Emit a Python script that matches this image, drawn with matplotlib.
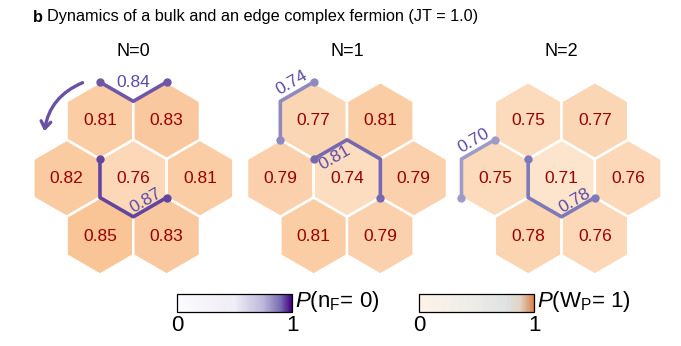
import numpy as np
import matplotlib
matplotlib.use('Agg')
import matplotlib.pyplot as plt
from matplotlib.patches import RegularPolygon, FancyArrowPatch
from matplotlib.colors import LinearSegmentedColormap, Normalize
import matplotlib.cm as cm

plt.rcParams['font.family'] = 'Liberation Sans'
plt.rcParams['mathtext.fontset'] = 'custom'
plt.rcParams['mathtext.rm'] = 'Liberation Sans'
plt.rcParams['mathtext.it'] = 'Liberation Sans:italic'

# data
panels = ['N=0', 'N=1', 'N=2']
hex_names = ['TL', 'TR', 'ML', 'C', 'MR', 'BL', 'BR']
wp_N0 = [0.81, 0.83, 0.82, 0.76, 0.81, 0.85, 0.83]
wp_N1 = [0.77, 0.81, 0.79, 0.74, 0.79, 0.81, 0.79]
wp_N2 = [0.75, 0.77, 0.75, 0.71, 0.76, 0.78, 0.76]
nf_N0 = [0.84, 0.87]
nf_N1 = [0.74, 0.81]
nf_N2 = [0.70, 0.78]
wp_all = [wp_N0, wp_N1, wp_N2]
nf_all = [nf_N0, nf_N1, nf_N2]

# geometry of the hexagon flower (r = 1, pointy top, y pointing down)
s3 = np.sqrt(3)
hex_off = {'TL': (-s3/2, -1.5), 'TR': (s3/2, -1.5), 'ML': (-s3, 0), 'C': (0, 0),
           'MR': (s3, 0), 'BL': (-s3/2, 1.5), 'BR': (s3/2, 1.5)}
vert_off = {'t': (0, -1), 'ur': (s3/2, -0.5), 'lr': (s3/2, 0.5), 'b': (0, 1),
            'll': (-s3/2, 0.5), 'ul': (-s3/2, -0.5)}

# (vertices along edges, label segment, label offset above segment)
paths = [
    [([('TL', 't'), ('TL', 'ur'), ('TR', 't')], None, 0),
     ([('C', 'ul'), ('C', 'll'), ('C', 'b'), ('C', 'lr')], 2, 0.2)],
    [([('TL', 'll'), ('TL', 'ul'), ('TL', 't')], 1, 0.27),
     ([('C', 'ul'), ('C', 't'), ('C', 'ur'), ('C', 'lr')], 0, -0.25)],
    [([('ML', 'll'), ('ML', 'ul'), ('ML', 't')], 1, 0.25),
     ([('C', 'ul'), ('C', 'll'), ('C', 'b'), ('C', 'lr')], 2, 0.2)],
]

W, H = 681, 346
U = 38.5  # pixels per hexagon radius
centers_px = [(133.3, 178.3), (347.0, 178.3), (561.5, 178.3)]

hex_cmap = LinearSegmentedColormap.from_list('hexc', ['#fde6d0', '#f9bf8e'])
hex_norm = Normalize(0.70, 0.87)
path_norm = Normalize(0.4, 1.0)
purples = plt.get_cmap('Purples')
label_col = '#5e4aa6'

fig = plt.figure(figsize=(W/100, H/100), dpi=100)
ax = fig.add_axes([0, 0, 1, 1])
ax.set_xlim(0, W/U)
ax.set_ylim(H/U, 0)
ax.axis('off')

def vpos(c, h, v):
    return (c[0] + hex_off[h][0] + vert_off[v][0], c[1] + hex_off[h][1] + vert_off[v][1])

for i in range(3):
    c = (centers_px[i][0]/U, centers_px[i][1]/U)
    ax.text(c[0], 52/U, panels[i], ha='center', va='center', fontsize=13)
    for name, val in zip(hex_names, wp_all[i]):
        x, y = c[0] + hex_off[name][0], c[1] + hex_off[name][1]
        ax.add_patch(RegularPolygon((x, y), 6, radius=1.0, orientation=0,
                                    facecolor=hex_cmap(hex_norm(val)),
                                    edgecolor='white', linewidth=1.8, zorder=1))
        ax.text(x, y, f'{val:.2f}', ha='center', va='center', fontsize=12.5,
                color='#990000', zorder=3)
    for (verts, seg, d), val in zip(paths[i], nf_all[i]):
        pts = np.array([vpos(c, h, v) for h, v in verts])
        col = purples(path_norm(val))
        ax.plot(pts[:, 0], pts[:, 1], color=col, lw=2.6, solid_capstyle='round',
                solid_joinstyle='round', zorder=4)
        ax.plot(pts[[0, -1], 0], pts[[0, -1], 1], 'o', color=col, ms=5, zorder=5)
        if seg is None:
            lx, ly = (pts[0] + pts[-1]) / 2
            rot = 0
        else:
            mx, my = (pts[seg] + pts[seg+1]) / 2
            lx, ly = mx - 0.5*d, my - 0.866*d
            rot = 30
        ax.text(lx, ly, f'{val:.2f}', ha='center', va='center', fontsize=12.5,
                color=label_col, rotation=rot, rotation_mode='anchor', zorder=6)

# curved arrow in the first panel
c0 = (centers_px[0][0]/U, centers_px[0][1]/U)
arr = FancyArrowPatch((c0[0] - 1.25, c0[1] - 2.51), (c0[0] - 2.32, c0[1] - 1.15),
                      connectionstyle='arc3,rad=0.3', arrowstyle='->,head_length=5,head_width=3.5',
                      color='#6a51a3', lw=2.4, zorder=5)
ax.add_patch(arr)

# title
fig.text(33/W, 1 - 17/H, 'b', fontsize=11.7, fontweight='bold', va='center')
fig.text(47/W, 1 - 17/H, 'Dynamics of a bulk and an edge complex fermion (JT = 1.0)',
         fontsize=11.7, va='center')

# colorbars
nf_cmap = LinearSegmentedColormap.from_list('nfc', [(0, '#fcfbfd'), (0.5, '#efedf5'),
                                                    (0.75, '#bcb8da'), (0.9, '#7a6db3'),
                                                    (1, '#3f007d')])
wp_cmap = LinearSegmentedColormap.from_list('wpc', [(0, '#fdf3e8'), (0.45, '#eeede8'),
                                                    (0.75, '#dfe3e3'), (0.88, '#e0d3c6'),
                                                    (1, '#d9824a')])
for x0, cmap, lab in [(177, nf_cmap, r'$P$(n$_\mathregular{F}$= 0)'),
                      (419, wp_cmap, r'$P$(W$_\mathregular{P}$= 1)')]:
    cax = fig.add_axes([x0/W, 1 - 312/H, 115/W, 18/H])
    cb = fig.colorbar(cm.ScalarMappable(norm=Normalize(0, 1), cmap=cmap), cax=cax,
                      orientation='horizontal', ticks=[0, 1])
    cax.tick_params(length=0, labelsize=16, pad=2)
    cb.outline.set_linewidth(0.9)
    fig.text((x0 + 118)/W, 1 - 302/H, lab, fontsize=16, va='center')

fig.savefig('out.png', dpi=100)
